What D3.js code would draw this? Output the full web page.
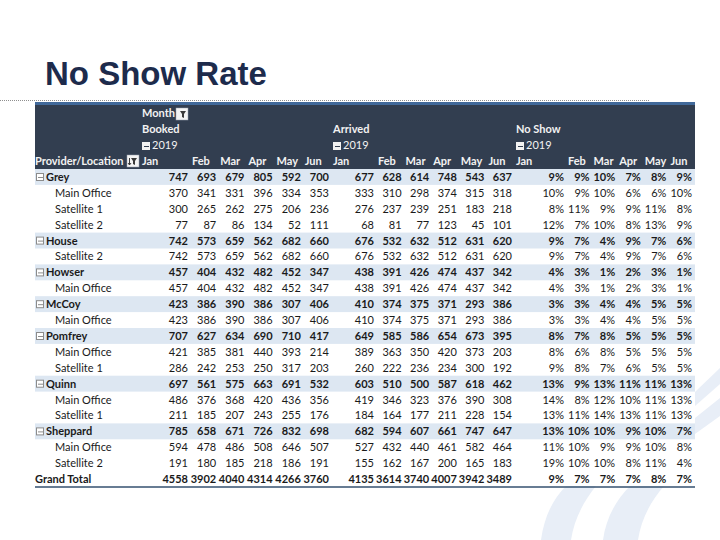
<!DOCTYPE html>
<html><head><meta charset="utf-8">
<script src="https://cdn.jsdelivr.net/npm/d3@7"></script>
<style>body{margin:0;background:#fff}svg{display:block}</style>
</head><body><svg id="c" width="720" height="540"></svg>
<script>
const title = "No Show Rate";
const months = ["Jan","Feb","Mar","Apr","May","Jun"];
const measures = ["Booked","Arrived","No Show"];
const year = "2019";
const rowLabels = ["Grey","Main Office","Satellite 1","Satellite 2","House","Satellite 2","Howser","Main Office","McCoy","Main Office","Pomfrey","Main Office","Satellite 1","Quinn","Main Office","Satellite 1","Sheppard","Main Office","Satellite 2","Grand Total"];
const rowLevels = [0,1,1,1,0,1,0,1,0,1,0,1,1,0,1,1,0,1,1,2];
const booked = [
  [747,693,679,805,592,700],
  [370,341,331,396,334,353],
  [300,265,262,275,206,236],
  [77,87,86,134,52,111],
  [742,573,659,562,682,660],
  [742,573,659,562,682,660],
  [457,404,432,482,452,347],
  [457,404,432,482,452,347],
  [423,386,390,386,307,406],
  [423,386,390,386,307,406],
  [707,627,634,690,710,417],
  [421,385,381,440,393,214],
  [286,242,253,250,317,203],
  [697,561,575,663,691,532],
  [486,376,368,420,436,356],
  [211,185,207,243,255,176],
  [785,658,671,726,832,698],
  [594,478,486,508,646,507],
  [191,180,185,218,186,191],
  [4558,3902,4040,4314,4266,3760]
];
const arrived = [
  [677,628,614,748,543,637],
  [333,310,298,374,315,318],
  [276,237,239,251,183,218],
  [68,81,77,123,45,101],
  [676,532,632,512,631,620],
  [676,532,632,512,631,620],
  [438,391,426,474,437,342],
  [438,391,426,474,437,342],
  [410,374,375,371,293,386],
  [410,374,375,371,293,386],
  [649,585,586,654,673,395],
  [389,363,350,420,373,203],
  [260,222,236,234,300,192],
  [603,510,500,587,618,462],
  [419,346,323,376,390,308],
  [184,164,177,211,228,154],
  [682,594,607,661,747,647],
  [527,432,440,461,582,464],
  [155,162,167,200,165,183],
  [4135,3614,3740,4007,3942,3489]
];
const noShowPct = [
  [9,9,10,7,8,9],
  [10,9,10,6,6,10],
  [8,11,9,9,11,8],
  [12,7,10,8,13,9],
  [9,7,4,9,7,6],
  [9,7,4,9,7,6],
  [4,3,1,2,3,1],
  [4,3,1,2,3,1],
  [3,3,4,4,5,5],
  [3,3,4,4,5,5],
  [8,7,8,5,5,5],
  [8,6,8,5,5,5],
  [9,8,7,6,5,5],
  [13,9,13,11,11,13],
  [14,8,12,10,11,13],
  [13,11,14,13,11,13],
  [13,10,10,9,10,7],
  [11,10,9,9,10,8],
  [19,10,10,8,11,4],
  [9,7,7,7,8,7]
];

const svg = d3.select("#c");
const FONT = "Lato, 'Open Sans', sans-serif";

// faint watermark shapes
const wm = svg.append("g").attr("fill","#e8eef7");
wm.append("path").attr("d","M541,540 C544,518 552,500 566,486 L596,486 C583,502 574,520 571,540 Z");
wm.append("path").attr("d","M603,540 C606,518 616,500 630,486 L664,486 C650,502 641,520 638,540 Z");
wm.append("path").attr("d","M695,392 L720,368 L720,384 L695,406 Z");
wm.append("path").attr("d","M695,418 L720,398 L720,416 L695,434 Z");

// title
svg.append("text").attr("x",45).attr("y",85)
  .attr("font-family","'Liberation Sans', Arial, sans-serif").attr("font-weight","bold")
  .attr("font-size",33).attr("fill","#1d2b4c").text(title);
svg.append("line").attr("x1",0).attr("x2",650).attr("y1",100.5).attr("y2",100.5)
  .attr("stroke","#8f8f8f").attr("stroke-dasharray","1,1");

const X0 = 35, X1 = 695;
const y = d3.scaleBand().domain(d3.range(rowLabels.length)).range([169,487]);
const hy = d3.scaleBand().domain(d3.range(4)).range([105,169]);

const groupStart = [141,332,515];
const groupEnd = [332,515,695];
const firstW = [50,45,52];
const colScale = measures.map((m,g) => d3.scaleLinear().domain([1,6]).range([groupStart[g]+firstW[g], groupEnd[g]]));
const colLeft = (g,i) => i===0 ? groupStart[g] : colScale[g](i);
const colRight = (g,i) => colScale[g](i+1);

// header
svg.append("rect").attr("x",X0).attr("y",102).attr("width",X1-X0).attr("height",3).attr("fill","#41699a");
svg.append("rect").attr("x",X0).attr("y",105).attr("width",X1-X0).attr("height",64).attr("fill","#323e50");

const head = svg.append("g").attr("font-family",FONT).attr("font-size",11).attr("fill","#f2f2f2").attr("font-weight","bold");
const hBase = i => hy(i) + hy.bandwidth()/2 + 4;

function filterIcon(x, yy, sort) {
  const g = svg.append("g");
  g.append("rect").attr("x",x).attr("y",yy).attr("width",12).attr("height",12).attr("fill","#f4f4f4").attr("stroke","#9aa3b0").attr("stroke-width",0.5);
  g.append("path").attr("d",`M${x+4},${yy+3} L${x+10},${yy+3} L${x+8},${yy+6} L${x+8},${yy+10} L${x+6},${yy+9} L${x+6},${yy+6} Z`).attr("fill","#3a3a3a");
  if (sort) g.append("path").attr("d",`M${x+2.5},${yy+3} L${x+2.5},${yy+10} M${x+1},${yy+8} L${x+2.5},${yy+10} L${x+4},${yy+8}`).attr("stroke","#3a3a3a").attr("fill","none").attr("stroke-width",1);
}
function minusBox(x, yy, fill, stroke, lineCol) {
  svg.append("rect").attr("x",x+0.5).attr("y",yy+0.5).attr("width",7).attr("height",7).attr("fill",fill).attr("stroke",stroke).attr("stroke-width",1);
  svg.append("line").attr("x1",x+2).attr("x2",x+7).attr("y1",yy+4.5).attr("y2",yy+4.5).attr("stroke",lineCol).attr("stroke-width",1);
}

head.append("text").attr("x",142).attr("y",hBase(0)).text("Month");
filterIcon(176, hy(0)+3, false);
measures.forEach((m,g) => {
  head.append("text").attr("x",groupStart[g]+1).attr("y",hBase(1)).text(m);
  minusBox(groupStart[g]+1, hy(2)+5, "#f2f2f2", "#f2f2f2", "#323e50");
  head.append("text").attr("x",groupStart[g]+11).attr("y",hBase(2)).attr("font-weight","normal").text(year);
  months.forEach((mo,i) => {
    head.append("text").attr("x",colLeft(g,i)+1).attr("y",hBase(3)).text(mo);
  });
});
head.append("text").attr("x",35).attr("y",hBase(3)).text("Provider/Location");
filterIcon(127, hy(3)+2, true);

// body rows
const body = svg.append("g").attr("font-family",FONT).attr("font-size",11).attr("fill","#1a1a1a");
rowLabels.forEach((lab,r) => {
  const lvl = rowLevels[r];
  const top = y(r), base = top + y.bandwidth()/2 + 4;
  if (lvl === 0) {
    body.append("rect").attr("x",X0).attr("y",top).attr("width",X1-X0).attr("height",y.bandwidth()).attr("fill","#dde7f2");
  }
});
rowLabels.forEach((lab,r) => {
  const lvl = rowLevels[r];
  const top = y(r), base = top + y.bandwidth()/2 + 4;
  const bold = lvl !== 1 ? "bold" : "normal";
  if (lvl === 0) {
    minusBox(36, top + 4, "#ffffff", "#8c8c8c", "#8c8c8c");
    body.append("text").attr("x",46).attr("y",base).attr("font-weight","bold").text(lab);
  } else if (lvl === 1) {
    body.append("text").attr("x",55).attr("y",base).text(lab);
  } else {
    body.append("text").attr("x",35).attr("y",base).attr("font-weight","bold").text(lab);
  }
  const series = [booked[r], arrived[r], noShowPct[r].map(v => v + "%")];
  series.forEach((vals,g) => {
    vals.forEach((v,i) => {
      body.append("text").attr("x",colRight(g,i)-3).attr("y",base).attr("text-anchor","end")
        .attr("font-weight",bold).text(v);
    });
  });
});
// grand total bottom border
svg.append("line").attr("x1",X0).attr("x2",X1).attr("y1",y(rowLabels.length-1)+y.bandwidth()).attr("y2",y(rowLabels.length-1)+y.bandwidth())
  .attr("stroke","#34516f").attr("stroke-width",1.5);
</script></body></html>
